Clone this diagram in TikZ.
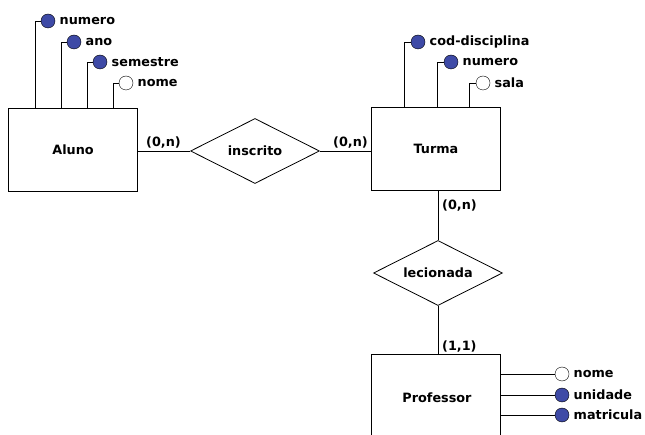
\documentclass[tikz,border=0pt]{standalone}
\usepackage{fontspec}
\setmainfont{DejaVu Sans}
\usetikzlibrary{shapes.geometric}
\definecolor{attrblue}{RGB}{62,74,166}
\begin{document}
\begin{tikzpicture}[x=1pt, y=-1pt,
  every node/.style={font=\fontsize{12.8}{14}\selectfont\bfseries},
  entity/.style={draw, thick, minimum width=129pt, minimum height=83pt},
  relation/.style={draw, thick, diamond, aspect=2, inner sep=0pt, minimum width=129pt, minimum height=65pt},
  keyattr/.style={circle, draw, fill=attrblue, inner sep=0pt, minimum size=14pt},
  attr/.style={circle, draw, fill=white, inner sep=0pt, minimum size=14pt},
  card/.style={inner sep=0pt, anchor=west}]
\useasboundingbox (0,0) rectangle (645,435);
\fill[white] (0,0) rectangle (645,435);
\clip (0,0) rectangle (645,435);

% entidades e relacionamentos
\node[entity] (aluno) at (73,150) {Aluno};
\node[entity] (turma) at (436,149) {Turma};
\node[entity] (professor) at (436,396) {};
\node at (437,398) {Professor};
\node[relation] (inscrito) at (255,151) {inscrito};
\node[relation] (lecionada) at (438,273) {lecionada};

\draw[thick] (aluno.east |- inscrito) -- (inscrito.west);
\draw[thick] (inscrito.east) -- (turma.west |- inscrito);
\draw[thick] (turma.south -| lecionada) -- (lecionada.north);
\draw[thick] (lecionada.south) -- (professor.north -| lecionada);

\node[card] (c1) at (146,143) {(0,n)};
\node[card] (c2) at (333,143) {(0,n)};
\node[card] (c3) at (442,206) {(0,n)};
\node[card] (c4) at (442,347) {(1,1)};

% atributos de Aluno
\node[keyattr, label={[label distance=1pt]right:numero}] (anumero) at (48,21) {};
\node[keyattr, label={[label distance=1pt]right:ano}] (aano) at (74,42) {};
\node[keyattr, label={[label distance=1pt]right:semestre}] (asem) at (100,62) {};
\node[attr, label={[label distance=1pt]right:nome}] (anome) at (126,83) {};
\coordinate (a1) at (35,108);
\coordinate (a2) at (61,108);
\coordinate (a3) at (87,108);
\coordinate (a4) at (113,108);
\draw[thick] (anumero) -| (a1);
\draw[thick] (aano) -| (a2);
\draw[thick] (asem) -| (a3);
\draw[thick] (anome) -| (a4);

% atributos de Turma
\node[keyattr, label={[label distance=1pt]right:cod-disciplina}] (tcod) at (418,42) {};
\node[keyattr, label={[label distance=1pt]right:numero}] (tnumero) at (451,62) {};
\node[attr, label={[label distance=1pt]right:sala}] (tsala) at (483,83) {};
\coordinate (t1) at (404,108);
\coordinate (t2) at (437,108);
\coordinate (t3) at (469,108);
\draw[thick] (tcod) -| (t1);
\draw[thick] (tnumero) -| (t2);
\draw[thick] (tsala) -| (t3);

% atributos de Professor
\node[attr, label={[label distance=1pt]right:nome}] (pnome) at (562,374) {};
\node[keyattr, label={[label distance=1pt]right:unidade}] (punidade) at (562,395) {};
\node[keyattr, label={[label distance=1pt]right:matricula}] (pmat) at (562,415) {};
\draw[thick] (pnome) -- (pnome -| professor.east);
\draw[thick] (punidade) -- (punidade -| professor.east);
\draw[thick] (pmat) -- (pmat -| professor.east);
\end{tikzpicture}
\end{document}
